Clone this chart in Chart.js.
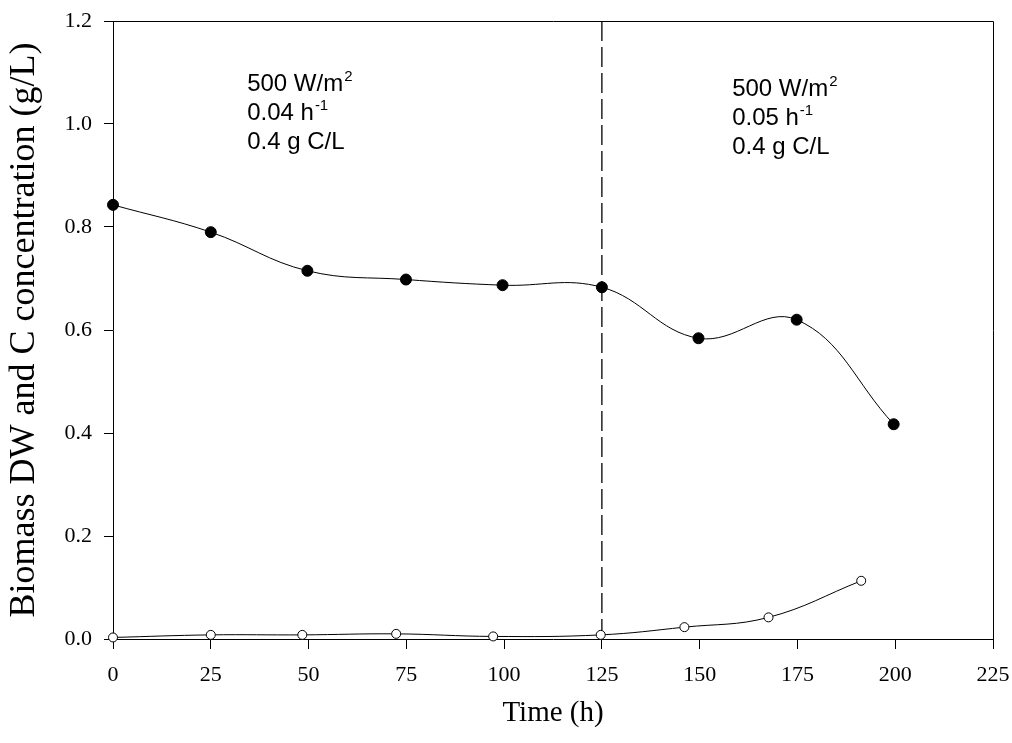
<!DOCTYPE html>
<html>
<head>
<meta charset="utf-8">
<script src="https://cdn.jsdelivr.net/npm/chart.js@4.4.1/dist/chart.umd.min.js"></script>
<style>
  html, body { margin: 0; padding: 0; background: #fff; }
  #wrap { width: 1012px; height: 743px; }
</style>
</head>
<body>
<div id="wrap"><canvas id="myChart" width="1012" height="743"></canvas></div>
<script>
// biomass DW (filled circles)
const biomassTime = [0, 25, 49.7, 74.9, 99.6, 125, 149.7, 174.8, 199.6];
const biomassDW = [0.843, 0.790, 0.715, 0.698, 0.687, 0.683, 0.584, 0.620, 0.417];

// C concentration (open circles)
const carbonTime = [0, 25, 48.4, 72.4, 97.2, 124.7, 146.1, 167.6, 191.3];
const carbonConc = [0.003, 0.008, 0.008, 0.010, 0.005, 0.008, 0.023, 0.042, 0.113];

// switch of dilution rate
const switchTime = 125;

// axis ticks
const xTicks = [0, 25, 50, 75, 100, 125, 150, 175, 200, 225];
const yTicks = [0, 0.2, 0.4, 0.6, 0.8, 1.0, 1.2];

// text blocks: [main, superscript] per line
const leftNote = [['500 W/m', '2'], ['0.04 h', '-1'], ['0.4 g C/L', '']];
const rightNote = [['500 W/m', '2'], ['0.05 h', '-1'], ['0.4 g C/L', '']];
const noteAnchors = [{x: 34.3, y: 1.10, lines: leftNote}, {x: 158.3, y: 1.089, lines: rightNote}];

function toPoints(xs, ys) {
  return xs.map((x, i) => ({x: x, y: ys[i]}));
}

// box around plot area
const frame = {
  id: 'frame',
  afterDatasetsDraw(chart) {
    const {ctx, chartArea: a} = chart;
    ctx.save();
    ctx.strokeStyle = '#000';
    ctx.lineWidth = 1;
    ctx.beginPath();
    ctx.moveTo(Math.round(a.left) + 0.5, Math.round(a.top) + 0.5);
    ctx.lineTo(Math.round(a.right) + 0.5, Math.round(a.top) + 0.5);
    ctx.lineTo(Math.round(a.right) + 0.5, Math.round(a.bottom) + 0.5);
    ctx.stroke();
    ctx.restore();
  }
};

// condition labels
const notes = {
  id: 'notes',
  afterDraw(chart) {
    const {ctx, scales} = chart;
    ctx.save();
    ctx.fillStyle = '#000';
    ctx.textBaseline = 'alphabetic';
    ctx.textAlign = 'left';
    noteAnchors.forEach(n => {
      const x0 = scales.x.getPixelForValue(n.x);
      let y = scales.y.getPixelForValue(n.y);
      n.lines.forEach(l => {
        ctx.font = '24px "Liberation Sans", Arial, sans-serif';
        const base = y + 18;
        ctx.fillText(l[0], x0, base);
        if (l[1]) {
          const w = ctx.measureText(l[0]).width;
          ctx.font = '15px "Liberation Sans", Arial, sans-serif';
          ctx.fillText(l[1], x0 + w + 1, base - 10);
        }
        y += 29;
      });
    });
    ctx.restore();
  }
};

Chart.defaults.font.family = '"Liberation Serif", "Times New Roman", serif';
Chart.defaults.font.size = 22;
Chart.defaults.color = '#000';

const config = {
  type: 'line',
  data: {
    datasets: [{
      label: 'Biomass DW',
      data: toPoints(biomassTime, biomassDW),
      borderColor: '#000',
      borderWidth: 1,
      backgroundColor: '#000',
      pointBackgroundColor: '#000',
      pointBorderColor: '#000',
      pointRadius: 5.5,
      tension: 0.4,
      clip: false
    }, {
      label: 'C concentration',
      data: toPoints(carbonTime, carbonConc),
      borderColor: '#000',
      borderWidth: 1,
      pointBackgroundColor: '#fff',
      pointBorderColor: '#000',
      pointBorderWidth: 1,
      pointRadius: 4.5,
      tension: 0.4,
      clip: false
    }, {
      label: 'switch',
      data: [{x: switchTime, y: yTicks[0]}, {x: switchTime, y: yTicks[yTicks.length - 1]}],
      borderColor: '#000',
      borderWidth: 1.3,
      borderDash: [20, 6],
      pointRadius: 0,
      tension: 0
    }]
  },
  options: {
    responsive: false,
    animation: false,
    layout: { padding: {top: 21, right: 19, left: 0, bottom: 0} },
    plugins: { legend: {display: false}, tooltip: {enabled: false} },
    scales: {
      x: {
        type: 'linear',
        min: xTicks[0],
        max: xTicks[xTicks.length - 1],
        afterBuildTicks: s => { s.ticks = xTicks.map(v => ({value: v})); },
        afterFit: s => { s.height = 104; s.paddingLeft = 0; s.paddingRight = 0; },
        ticks: { padding: 13, maxRotation: 0 },
        grid: { drawOnChartArea: false, drawTicks: true, tickLength: 10, color: '#000', lineWidth: 1 },
        border: { display: true, color: '#000', width: 1 },
        title: { display: true, text: 'Time (h)', font: {size: 29}, padding: {top: 0, bottom: 12} }
      },
      y: {
        type: 'linear',
        min: yTicks[0],
        max: yTicks[yTicks.length - 1],
        afterBuildTicks: s => { s.ticks = yTicks.map(v => ({value: v})); },
        afterFit: s => { s.width = 113; s.paddingTop = 0; s.paddingBottom = 0; },
        ticks: { padding: 12, callback: v => v.toFixed(1) },
        grid: { drawOnChartArea: false, drawTicks: true, tickLength: 9, color: '#000', lineWidth: 1 },
        border: { display: true, color: '#000', width: 1 },
        title: { display: true, text: 'Biomass DW and C concentration (g/L)', font: {size: 36}, padding: {top: 3, bottom: 0} }
      }
    }
  },
  plugins: [frame, notes]
};

const theChart = new Chart(document.getElementById('myChart').getContext('2d'), config);
</script>
</body>
</html>
